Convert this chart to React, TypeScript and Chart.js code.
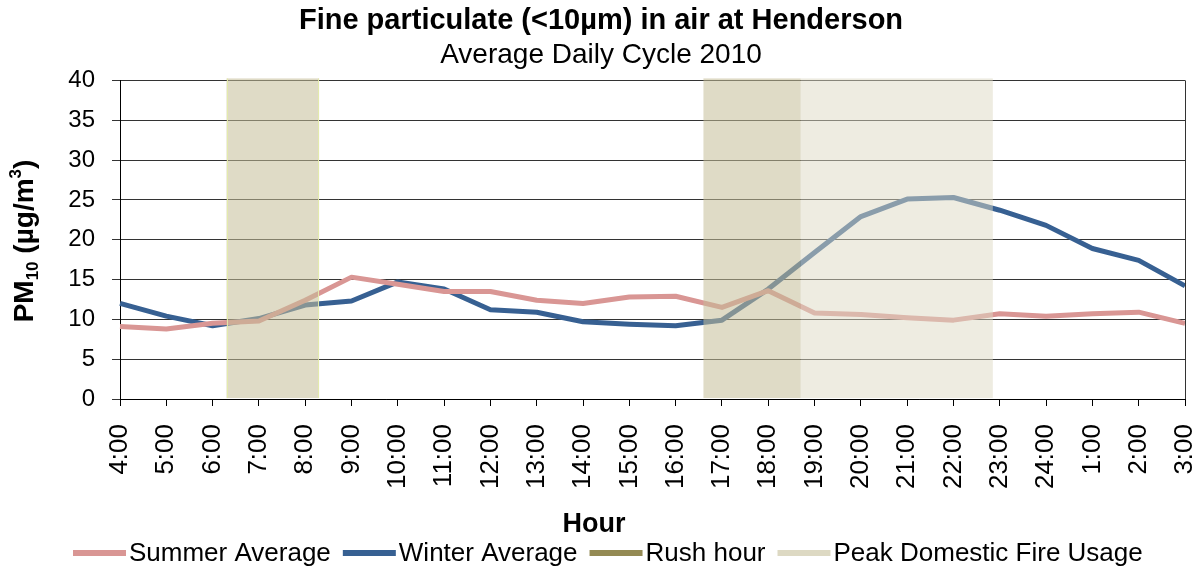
import React, { useEffect, useRef } from "react";
import { Chart, registerables } from "chart.js";

Chart.register(...registerables);

const FONT = "'Liberation Sans', Arial, Helvetica, sans-serif";

const hourLabels = [
  "4:00", "5:00", "6:00", "7:00", "8:00", "9:00", "10:00", "11:00",
  "12:00", "13:00", "14:00", "15:00", "16:00", "17:00", "18:00", "19:00",
  "20:00", "21:00", "22:00", "23:00", "24:00", "1:00", "2:00", "3:00",
];

const summerAverage = [
  9.1, 8.8, 9.5, 9.8, 12.4, 15.3, 14.4, 13.5, 13.5, 12.4, 12.0, 12.8,
  12.9, 11.5, 13.6, 10.8, 10.6, 10.2, 9.9, 10.7, 10.4, 10.7, 10.9, 9.5,
];

const winterAverage = [
  12.0, 10.4, 9.2, 10.1, 11.8, 12.3, 14.7, 13.8, 11.2, 10.9, 9.7, 9.4,
  9.2, 9.9, 13.8, 18.4, 22.9, 25.1, 25.3, 23.7, 21.8, 18.9, 17.4, 14.2,
];

// shaded periods, in decimal clock hours (same day, starting from 4:00)
const rushHourWindows = [
  [6.3, 8.3],
  [16.6, 18.7],
];
const fireUsageWindows = [[18.7, 22.85]];
const firstHour = 4;

const seriesNames = ["Summer Average", "Winter Average", "Rush hour", "Peak Domestic Fire Usage"];
const seriesColors = ["#D99694", "#376092", "#948A54", "#DDD9C3"];

const shadePlugin = {
  id: "shades",
  afterDatasetsDraw(chart: any) {
    const { ctx, scales } = chart;
    const x = scales.x;
    const y = scales.y;
    const top = y.getPixelForValue(40.25);
    const bottom = y.getPixelForValue(0.12);
    ctx.save();
    fireUsageWindows.forEach(([a, b]) => {
      const x0 = x.getPixelForValue(a - firstHour);
      const x1 = x.getPixelForValue(b - firstHour);
      ctx.fillStyle = "rgba(221,217,195,0.5)";
      ctx.fillRect(x0, top, x1 - x0, bottom - top);
    });
    rushHourWindows.forEach(([a, b], i) => {
      const x0 = x.getPixelForValue(a - firstHour);
      const x1 = x.getPixelForValue(b - firstHour);
      ctx.fillStyle = "rgba(196,189,151,0.55)";
      ctx.fillRect(x0, top, x1 - x0, bottom - top);
      if (i === 0) {
        ctx.strokeStyle = "rgba(228,236,170,0.9)";
        ctx.lineWidth = 1;
        ctx.beginPath();
        ctx.moveTo(Math.round(x0) + 0.5, top);
        ctx.lineTo(Math.round(x0) + 0.5, bottom);
        ctx.moveTo(Math.round(x1) - 0.5, top);
        ctx.lineTo(Math.round(x1) - 0.5, bottom);
        ctx.stroke();
      }
    });
    ctx.restore();
  },
};

const decorPlugin = {
  id: "decor",
  afterDraw(chart: any) {
    const { ctx, chartArea } = chart;
    ctx.save();
    // right frame line
    ctx.strokeStyle = "#333";
    ctx.lineWidth = 1;
    ctx.beginPath();
    ctx.moveTo(Math.round(chartArea.right) + 0.5, chartArea.top);
    ctx.lineTo(Math.round(chartArea.right) + 0.5, chartArea.bottom);
    ctx.stroke();

    // y axis title with sub/superscript
    ctx.fillStyle = "#000";
    ctx.textBaseline = "alphabetic";
    ctx.textAlign = "left";
    const parts = [
      { t: "PM", s: 28, dy: 0 },
      { t: "10", s: 17, dy: 5 },
      { t: " (µg/m", s: 28, dy: 0 },
      { t: "3", s: 17, dy: -12 },
      { t: ")", s: 28, dy: 0 },
    ];
    let total = 0;
    parts.forEach((p) => {
      ctx.font = `bold ${p.s}px ${FONT}`;
      total += ctx.measureText(p.t).width;
    });
    ctx.translate(33, 241);
    ctx.rotate(-Math.PI / 2);
    let px = -total / 2;
    parts.forEach((p) => {
      ctx.font = `bold ${p.s}px ${FONT}`;
      ctx.fillText(p.t, px, p.dy);
      px += ctx.measureText(p.t).width;
    });
    ctx.setTransform(1, 0, 0, 1, 0, 0);

    // x axis title
    ctx.font = `bold 27px ${FONT}`;
    ctx.textAlign = "center";
    ctx.fillText("Hour", 594, 532);

    // legend
    ctx.font = `26px ${FONT}`;
    ctx.textAlign = "left";
    ctx.textBaseline = "middle";
    let lx = 73;
    const ly = 553;
    seriesNames.forEach((name, i) => {
      ctx.strokeStyle = seriesColors[i];
      ctx.lineWidth = 6;
      ctx.beginPath();
      ctx.moveTo(lx, ly);
      ctx.lineTo(lx + 53, ly);
      ctx.stroke();
      lx += 56;
      ctx.fillStyle = "#000";
      ctx.fillText(name, lx, ly + 1);
      lx += ctx.measureText(name).width + 12;
    });
    ctx.restore();
  },
};

export default function App() {
  const canvasRef = useRef<HTMLCanvasElement | null>(null);

  useEffect(() => {
    if (!canvasRef.current) return;
    const chart = new Chart(canvasRef.current, {
      type: "line",
      data: {
        labels: hourLabels,
        datasets: [
          {
            label: seriesNames[0],
            data: summerAverage,
            borderColor: seriesColors[0],
            backgroundColor: seriesColors[0],
            borderWidth: 5,
            pointRadius: 0,
            tension: 0,
            borderJoinStyle: "round",
          },
          {
            label: seriesNames[1],
            data: winterAverage,
            borderColor: seriesColors[1],
            backgroundColor: seriesColors[1],
            borderWidth: 5,
            pointRadius: 0,
            tension: 0,
            borderJoinStyle: "round",
          },
        ],
      },
      options: {
        responsive: false,
        animation: false,
        layout: { padding: { left: 17, right: 17, top: 0, bottom: 0 } },
        plugins: {
          legend: { display: false },
          tooltip: { enabled: false },
          title: {
            display: true,
            text: "Fine particulate (<10µm) in air at Henderson",
            color: "#000",
            font: { family: FONT, size: 29, weight: "bold", lineHeight: 1.2 },
            padding: { top: 4, bottom: 0 },
          },
          subtitle: {
            display: true,
            text: "Average Daily Cycle 2010",
            color: "#000",
            font: { family: FONT, size: 28, weight: "normal", lineHeight: 1.2 },
            padding: { top: 0, bottom: 8 },
          },
        },
        scales: {
          x: {
            type: "category",
            offset: false,
            grid: {
              display: true,
              drawOnChartArea: false,
              drawTicks: true,
              tickLength: 7,
              color: "#000",
              offset: false,
            },
            border: { display: true, color: "#000", width: 1 },
            ticks: {
              autoSkip: false,
              maxRotation: 90,
              minRotation: 90,
              padding: 18,
              color: "#000",
              font: { family: FONT, size: 26 },
            },
            afterFit: (scale: any) => {
              scale.height = 171;
              scale.paddingLeft = 0;
              scale.paddingRight = 0;
            },
          },
          y: {
            min: 0,
            max: 40,
            grid: {
              display: true,
              drawOnChartArea: true,
              drawTicks: true,
              tickLength: 8,
              color: "#333",
            },
            border: { display: true, color: "#000", width: 1 },
            ticks: {
              stepSize: 5,
              padding: 17,
              color: "#000",
              font: { family: FONT, size: 24 },
            },
            afterFit: (scale: any) => {
              scale.width = 103;
              scale.paddingTop = 0;
              scale.paddingBottom = 0;
            },
          },
        },
      },
      plugins: [shadePlugin, decorPlugin],
    });
    return () => chart.destroy();
  }, []);

  return (
    <div style={{ position: "fixed", left: 0, top: 0, width: 1202, height: 570, background: "#fff" }}>
      <canvas ref={canvasRef} width={1202} height={570} style={{ display: "block" }} />
    </div>
  );
}
